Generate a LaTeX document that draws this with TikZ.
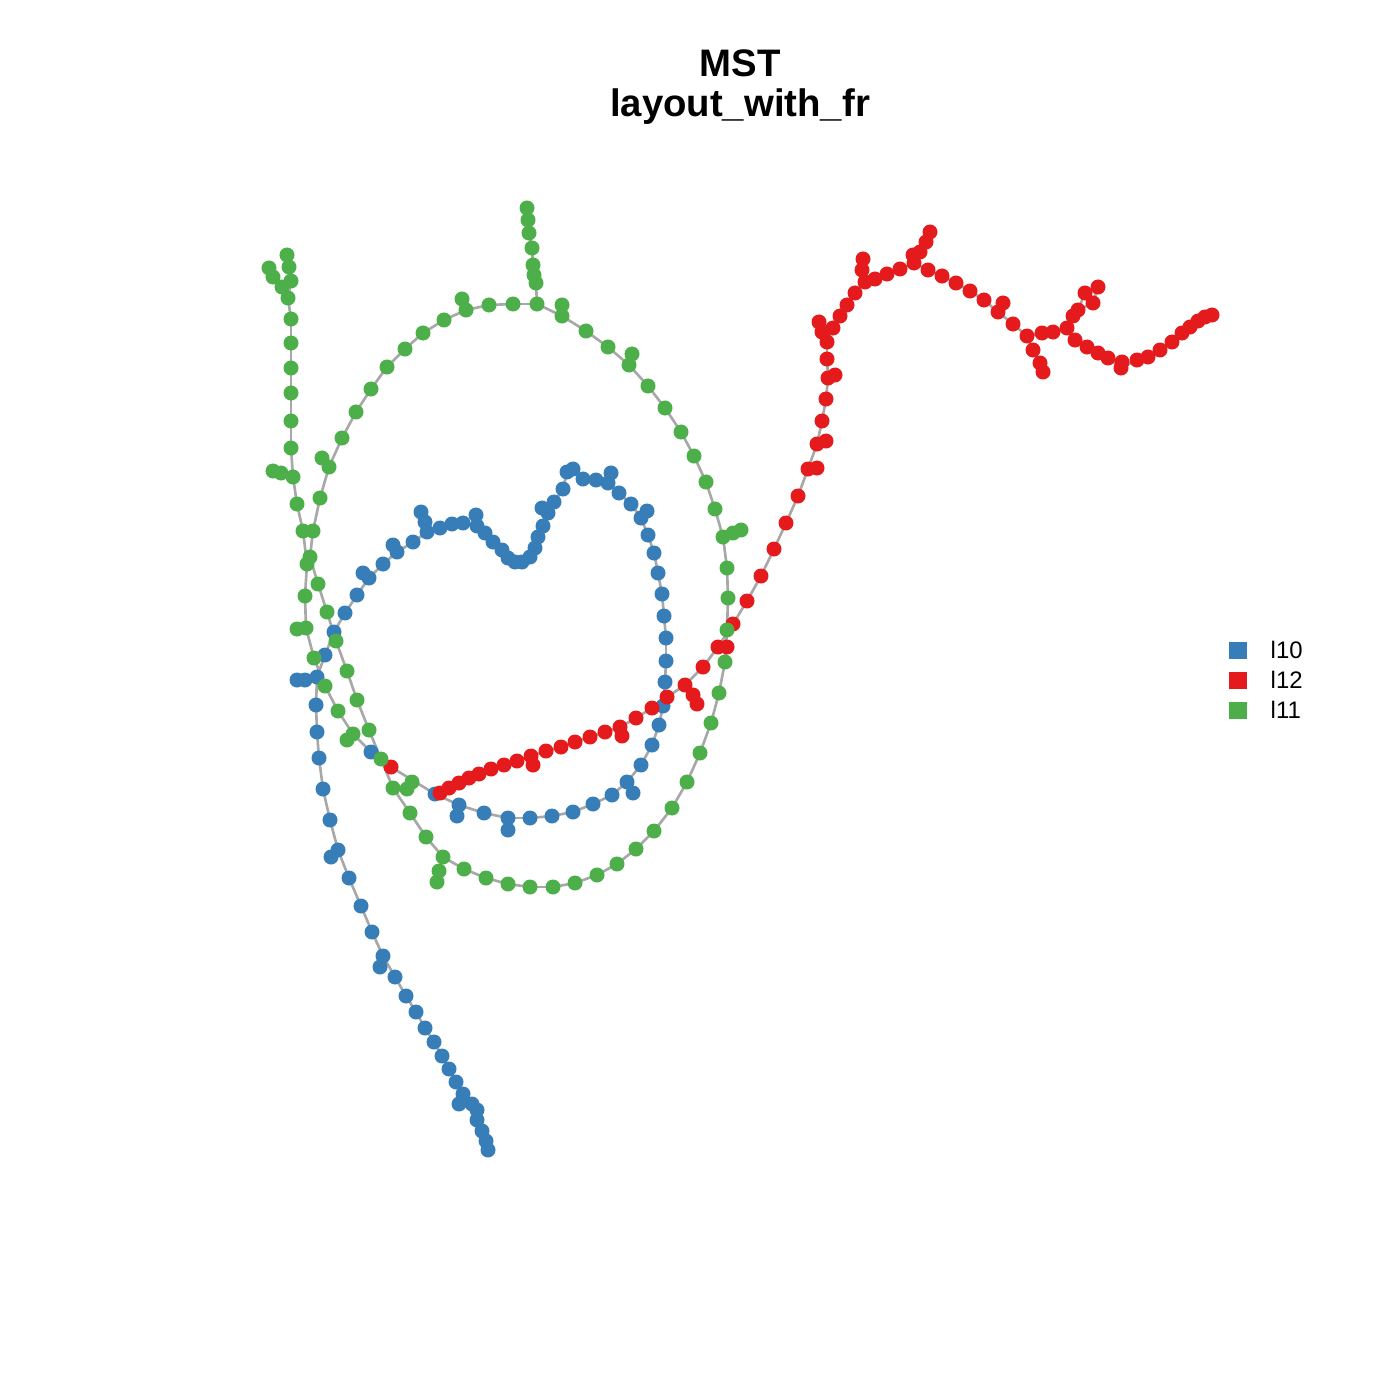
\documentclass[tikz,border=0pt]{standalone}
\usepackage{fontspec}
\setmainfont{Liberation Sans}
\definecolor{cblue}{HTML}{377EB8}
\definecolor{cred}{HTML}{E41A1C}
\definecolor{cgreen}{HTML}{4DAF4A}
\definecolor{cedge}{HTML}{A8A8A8}
\tikzset{
  edge/.style={draw=cedge, line width=0.75pt},
  legsq/.style={rectangle, inner sep=0pt, minimum width=0.18cm, minimum height=0.17cm},
  legtxt/.style={anchor=base west, inner sep=0pt, font=\fontsize{6.8pt}{8pt}\selectfont},
  ttl/.style={anchor=base, inner sep=0pt, font=\fontsize{10.9pt}{13pt}\selectfont\bfseries}
}
% chain of named points with edges between successive ones
\newcommand\mkchain[3]{%
  \foreach [count=\i, remember=\i as \j (initially 0)] \x/\y in {#3} {%
    \coordinate (#1\i) at (\x,\y);
    \ifnum\i>1 \draw[edge] (#1\j) -- (#1\i);\fi
    \xdef#2{\i}}}
% named points without edges
\newcommand\mkpts[3]{%
  \foreach [count=\i] \x/\y in {#3} {%
    \coordinate (#1\i) at (\x,\y);
    \xdef#2{\i}}}
\newcommand\filldots[3]{%
  \foreach \k in {1,...,#2} \fill[#3] (#1\k) circle[radius=0.075cm];}
\begin{document}
\begin{tikzpicture}[x=0.01cm,y=-0.01cm]
\path[use as bounding box] (0,0) rectangle (1400,1400);

% ---------------- green ----------------
\mkchain{R}{\nR}{329/467, 342/438, 356/412, 371/389, 387/367, 405/349, 423/333, 444/320, 466/310, 489/305, 513/304, 537/304, 562/316, 586/331, 608/347, 629/365, 648/386, 665/408, 681/432, 694/456, 706/482, 715/509, 723/537, 727/568, 728/598, 727/630, 725/662, 719/693, 711/723, 700/753, 687/782, 672/808, 654/831, 636/849, 617/864, 597/875, 575/883, 553/887, 530/887, 508/884, 486/878, 464/869, 443/857, 426/837, 410/813, 393/788, 381/759, 369/730, 357/700, 347/671, 336/641, 327/612, 318/584, 310/557, 313/531, 320/498}
\draw[edge] (R\nR) -- (R1);
\mkchain{T}{\nT}{527/208, 528/220, 529/233, 532/248, 533/265, 534/275, 536/283}
\draw[edge] (T\nT) -- (R12);
\mkchain{A}{\nA}{287/255, 289/267, 291/281, 288/298, 291/319, 291/343, 291/368, 291/393, 291/421, 291/448, 293/477, 297/504, 303/531, 307/564, 305/596, 306/628, 314/658, 325/686, 338/711, 353/734, 347/740}
\mkpts{gx}{\ngx}{322/458, 462/299, 562/305, 632/354, 733/533, 741/530, 439/871, 437/882, 407/789, 412/782, 269/268, 273/277, 282/287, 273/471, 281/473, 297/629}
\draw[edge] (gx1) -- (R1);
\draw[edge] (gx2) -- (R9);
\draw[edge] (gx3) -- (R13);
\draw[edge] (gx4) -- (R16);
\draw[edge] (gx6) -- (gx5) -- (R23);
\draw[edge] (gx8) -- (gx7) -- (R43);
\draw[edge] (gx10) -- (gx9) -- (R46);
\draw[edge] (gx11) -- (gx12) -- (gx13) -- (A4);
\draw[edge] (gx14) -- (gx15) -- (A11);
\draw[edge] (gx16) -- (A16);

% ---------------- blue ----------------
\mkchain{B}{\nB}{488/1150, 486/1141, 482/1131, 477/1120, 477/1110, 472/1104, 463/1094, 456/1082, 449/1069, 442/1056, 434/1042, 425/1028, 416/1012, 406/996, 395/977, 383/956, 372/932, 361/906, 349/878, 338/850, 330/820, 323/789, 319/758, 317/732, 316/705, 317/677, 325/655, 334/632, 345/613, 357/595, 369/578, 383/564, 397/552, 413/542, 427/532, 440/528, 452/524, 463/523, 477/526, 485/533, 493/542, 502/550, 508/558, 515/562, 522/562, 530/557, 535/548, 538/537, 543/526, 548/513, 554/502, 563/489, 567/472, 573/469, 583/479, 596/480, 608/483, 619/493, 631/504, 641/518, 648/535, 654/553, 658/573, 662/594, 664/616, 666/638, 666/661, 665/682, 663/706, 659/725, 652/745, 641/765, 627/782, 612/795, 593/804, 573/812, 552/816, 530/818, 508/818, 484/813, 459/805, 435/794}
\mkpts{bx}{\nbx}{459/1104, 380/967, 331/857, 305/680, 297/680, 363/573, 393/545, 425/522, 421/512, 476/515, 542/508, 611/473, 647/511, 633/793, 508/830, 457/816, 371/752}
\draw[edge] (bx1) -- (B7);
\draw[edge] (bx2) -- (B16);
\draw[edge] (bx3) -- (B20);
\draw[edge] (bx5) -- (bx4) -- (B26);
\draw[edge] (bx6) -- (B31);
\draw[edge] (bx7) -- (B33);
\draw[edge] (bx9) -- (bx8) -- (B35);
\draw[edge] (bx10) -- (B39);
\draw[edge] (bx11) -- (B50);
\draw[edge] (bx12) -- (B57);
\draw[edge] (bx13) -- (B60);
\draw[edge] (bx14) -- (B73);
\draw[edge] (bx15) -- (B79);
\draw[edge] (bx16) -- (B81);
\draw[edge] (A20) -- (bx17);

% ---------------- red ----------------
\mkchain{E}{\nE}{440/793, 449/788, 459/783, 469/778, 479/774, 491/769, 504/765, 517/761, 531/756, 546/751, 561/747, 575/742, 590/737, 605/732, 620/727, 636/718, 652/708, 667/697, 685/685, 703/667, 718/647, 733/624, 747/601, 761/576, 774/549, 786/523, 798/496, 808/469, 817/444, 822/421, 826/399, 828/378, 827/359, 827/342, 833/328, 840/316, 847/305, 855/293, 865/282, 875/279, 887/274, 900/269, 914/263, 928/270, 942/276, 956/283, 970/291, 984/300, 998/312, 1013/324, 1027/336, 1042/333, 1053/332, 1067/328, 1075/340, 1087/347, 1098/353, 1108/358, 1121/368, 1137/360, 1148/357, 1160/350, 1172/342, 1182/333, 1190/327, 1198/321, 1205/317, 1212/315}
\mkpts{ex}{\nex}{391/767, 533/765, 622/736, 693/695, 697/704, 727/647, 817/468, 826/441, 835/375, 822/332, 819/322, 862/270, 863/259, 913/255, 920/252, 926/242, 930/232, 1003/303, 1033/350, 1040/363, 1043/372, 1073/316, 1078/310, 1085/293, 1093/303, 1098/287, 1122/362}
\draw[edge] (bx17) -- (ex1) -- (B82) -- (E1);
\draw[edge] (ex2) -- (E9);
\draw[edge] (ex3) -- (E15);
\draw[edge] (ex5) -- (ex4) -- (E19);
\draw[edge] (ex6) -- (E21);
\draw[edge] (ex7) -- (E28);
\draw[edge] (ex8) -- (E29);
\draw[edge] (ex9) -- (E32);
\draw[edge] (ex11) -- (ex10) -- (E34);
\draw[edge] (ex13) -- (ex12) -- (E39);
\draw[edge] (ex17) -- (ex16) -- (ex15) -- (ex14) -- (E43);
\draw[edge] (ex18) -- (E49);
\draw[edge] (ex21) -- (ex20) -- (ex19) -- (E51);
\draw[edge] (ex24) -- (ex23) -- (ex22) -- (E54);
\draw[edge] (ex26) -- (ex25) -- (ex23);
\draw[edge] (ex27) -- (E59);

% ---------------- dots ----------------
\filldots{B}{\nB}{cblue}
\filldots{bx}{\nbx}{cblue}
\filldots{E}{\nE}{cred}
\filldots{ex}{\nex}{cred}
\filldots{R}{\nR}{cgreen}
\filldots{T}{\nT}{cgreen}
\filldots{A}{\nA}{cgreen}
\filldots{gx}{\ngx}{cgreen}

% ---------------- title ----------------
\node[ttl] (title1) at (740,77) {MST};
\node[ttl] (title2) at (740,117) {layout\_with\_fr};

% ---------------- legend ----------------
\node[legsq, fill=cblue] (sq1) at (1238,650) {};
\node[legsq, fill=cred] (sq2) at (1238,680) {};
\node[legsq, fill=cgreen] (sq3) at (1238,710) {};
\node[legtxt] (lab1) at (1270,658) {l10};
\node[legtxt] (lab2) at (1270,688) {l12};
\node[legtxt] (lab3) at (1270,718) {l11};
\end{tikzpicture}
\end{document}
